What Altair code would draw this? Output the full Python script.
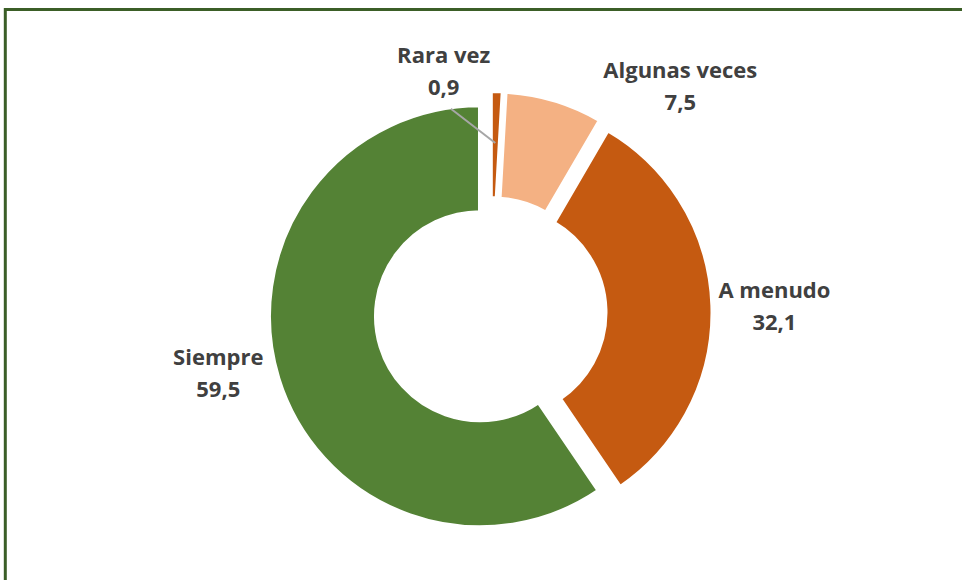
import altair as alt
import pandas as pd

# ---- data ----
categorias = ["Rara vez", "Algunas veces", "A menudo", "Siempre"]
valores = [0.9, 7.5, 32.1, 59.5]
etiquetas = ["0,9", "7,5", "32,1", "59,5"]

# ---- styling / layout ----
colores = ["#C55A11", "#F4B183", "#C55A11", "#548235"]
CX, CY = 490.5, 313
R_OUT, R_IN = 211, 104
EXPLODE = 11
# label placement: (radius from centre, angular nudge in degrees from slice mid-angle)
label_r = [246, 295, 284, 279]
label_d = [-12.6, 23.3, 0.8, 4.5]

df = pd.DataFrame({
    "categoria": categorias,
    "valor": valores,
    "etiqueta": etiquetas,
    "orden": list(range(len(categorias))),
    "r_lab": label_r,
    "d_lab": label_d,
})

base = (
    alt.Chart(df)
    .transform_window(cum="sum(valor)", sort=[alt.SortField("orden")], frame=[None, 0])
    .transform_joinaggregate(total="sum(valor)")
    .transform_calculate(s0="datum.cum - datum.valor", s1="datum.cum",
                         mid="(datum.cum - datum.valor/2)/datum.total*2*PI")
    .transform_calculate(
        cx=f"{CX} + {EXPLODE}*sin(datum.mid)",
        cy=f"{CY} - {EXPLODE}*cos(datum.mid)",
        la="datum.mid + datum.d_lab*PI/180",
    )
    .transform_calculate(
        lx=f"{CX} + datum.r_lab*sin(datum.la)",
        ly=f"{CY} - datum.r_lab*cos(datum.la)",
        l0x=f"{CX} + 208*sin(datum.la)",
        l0y=f"{CY} - 208*cos(datum.la)",
        l1x=f"{CX} + 170*sin(datum.mid)",
        l1y=f"{CY} - 170*cos(datum.mid)",
    )
)

arcs = base.mark_arc(innerRadius=R_IN, outerRadius=R_OUT, stroke="white", strokeWidth=4).encode(
    theta=alt.Theta("s0:Q", stack=None, scale=alt.Scale(domain=[0, 100])),
    theta2="s1:Q",
    x=alt.X("cx:Q", scale=None, axis=None, stack=None),
    y=alt.Y("cy:Q", scale=None, axis=None, stack=None),
    color=alt.Color("categoria:N", scale=alt.Scale(domain=categorias, range=colores), legend=None),
)

leader = base.transform_filter(alt.datum.categoria == "Rara vez").mark_rule(
    color="#A6A6A6", strokeWidth=2
).encode(
    x=alt.X("l0x:Q", scale=None, axis=None),
    y=alt.Y("l0y:Q", scale=None, axis=None),
    x2="l1x:Q",
    y2="l1y:Q",
)

txt_style = dict(font="Open Sans", fontWeight="bold", fontSize=22, color="#404040",
                 align="center", baseline="middle")

names = base.mark_text(dy=-16, **txt_style).encode(
    x=alt.X("lx:Q", scale=None, axis=None, stack=None),
    y=alt.Y("ly:Q", scale=None, axis=None, stack=None),
    text="categoria:N",
)
vals = base.mark_text(dy=16, **txt_style).encode(
    x=alt.X("lx:Q", scale=None, axis=None, stack=None),
    y=alt.Y("ly:Q", scale=None, axis=None, stack=None),
    text="etiqueta:N",
)

frame = alt.Chart(pd.DataFrame({"f": [0]})).mark_rect(
    fill=None, stroke="#3B5E27", strokeWidth=3
).encode(
    x=alt.value(5.3), y=alt.value(9.5), x2=alt.value(1200), y2=alt.value(900)
)

chart = alt.layer(frame, arcs, leader, names, vals).properties(
    width=962, height=580, padding=0,
    autosize=alt.AutoSizeParams(type="none"),
    background="white",
).configure_view(stroke=None)

chart.save("out.html", embed_options={"renderer": "svg", "actions": False})
